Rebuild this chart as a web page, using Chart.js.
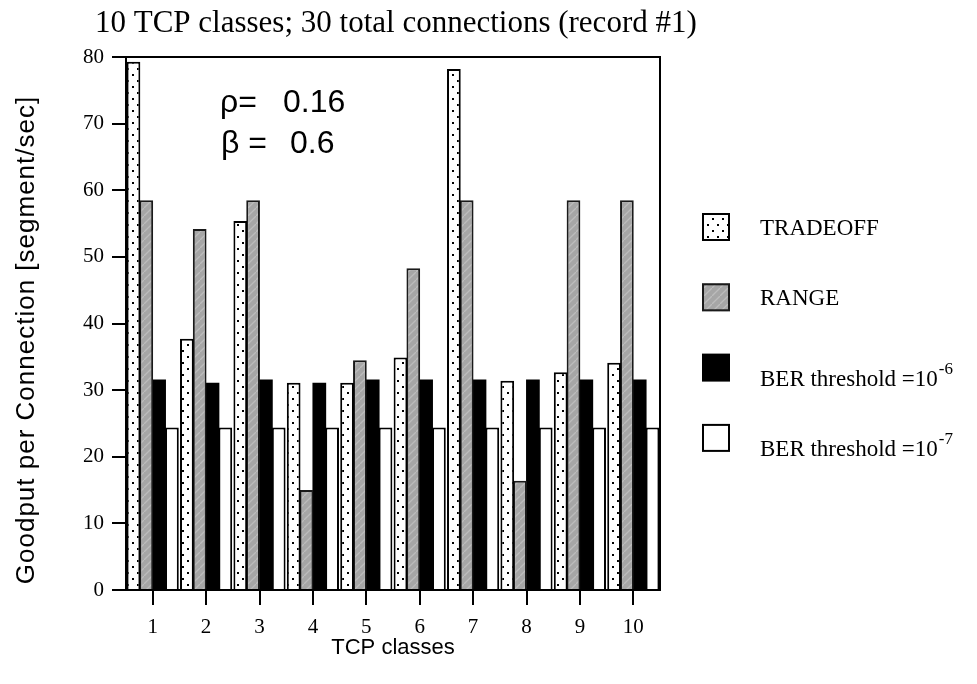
<!DOCTYPE html>
<html>
<head>
<meta charset="utf-8">
<title>Goodput per TCP class</title>
<script src="https://cdn.jsdelivr.net/npm/chart.js@4/dist/chart.umd.min.js"></script>
<style>
  html, body { margin: 0; padding: 0; background: #fff; }
  canvas { display: block; }
</style>
</head>
<body>
<canvas id="chart" width="977" height="684"></canvas>
<script>
// ---- data ----
const classes = ['1', '2', '3', '4', '5', '6', '7', '8', '9', '10'];
const seriesNames = ['TRADEOFF', 'RANGE', 'BER threshold =10^-6', 'BER threshold =10^-7'];
const tradeoff = [79.3, 37.7, 55.4, 31.1, 31.1, 34.9, 78.2, 31.4, 32.7, 34.1];
const range    = [58.5, 54.2, 58.5, 15.0, 34.5, 48.3, 58.5, 16.4, 58.5, 58.5];
const ber6     = [31.6, 31.1, 31.6, 31.1, 31.6, 31.6, 31.6, 31.6, 31.6, 31.6];
const ber7     = [24.4, 24.4, 24.4, 24.4, 24.4, 24.4, 24.4, 24.4, 24.4, 24.4];
const yMin = 0, yMax = 80, yStep = 10;
const chartTitle = '10 TCP classes; 30 total connections (record #1)';
const xTitle = 'TCP classes';
const yTitle = 'Goodput per Connection [segment/sec]';
const paramLines = [['\u03C1=', '0.16'], ['\u03B2 =', '0.6']];

// ---- fills ----
function dotPattern() {
  const c = document.createElement('canvas');
  c.width = 10; c.height = 12;
  const g = c.getContext('2d');
  g.fillStyle = '#fff'; g.fillRect(0, 0, 10, 12);
  g.fillStyle = '#000';
  g.fillRect(2, 2, 2, 2);
  g.fillRect(7, 8, 2, 2);
  return g.createPattern(c, 'repeat');
}
function hatchPattern() {
  const c = document.createElement('canvas');
  c.width = 8; c.height = 8;
  const g = c.getContext('2d');
  g.fillStyle = '#a6a6a6'; g.fillRect(0, 0, 8, 8);
  g.strokeStyle = '#bcbcbc'; g.lineWidth = 1.3;
  g.beginPath(); g.moveTo(0, 8); g.lineTo(8, 0); g.stroke();
  return g.createPattern(c, 'repeat');
}
const dots = dotPattern();
const hatch = hatchPattern();

const SERIF = '"Liberation Serif", "Times New Roman", serif';
const SANS = '"Liberation Sans", Arial, sans-serif';

// ---- frame, titles, parameters and legend ----
const notes = {
  id: 'notes',
  afterDraw(chart) {
    const ctx = chart.ctx;
    const a = chart.chartArea;
    ctx.save();

    // closing top / right frame of the plot box
    ctx.strokeStyle = '#000';
    ctx.lineWidth = 2;
    ctx.beginPath();
    ctx.moveTo(a.left - 1, Math.round(a.top));
    ctx.lineTo(Math.round(a.right), Math.round(a.top));
    ctx.lineTo(Math.round(a.right), a.bottom + 1);
    ctx.stroke();

    ctx.fillStyle = '#000';
    ctx.textBaseline = 'alphabetic';

    // chart title
    ctx.font = '31px ' + SERIF;
    ctx.textAlign = 'left';
    ctx.fillText(chartTitle, 95, 32);

    // y axis title
    ctx.save();
    ctx.translate(34, 340);
    ctx.rotate(-Math.PI / 2);
    ctx.font = '26px ' + SANS;
    ctx.letterSpacing = '1px';
    ctx.textAlign = 'center';
    ctx.fillText(yTitle, 0, 0);
    ctx.restore();

    // parameter annotations
    ctx.font = '32px ' + SANS;
    ctx.textAlign = 'left';
    ctx.fillText(paramLines[0][0], 220, 112);
    ctx.fillText(paramLines[0][1], 283, 112);
    ctx.fillText(paramLines[1][0], 221, 153);
    ctx.fillText(paramLines[1][1], 290, 153);

    // legend
    const lx = 702, ly = 213, step = 70.3, box = 28;
    chart.data.datasets.forEach((ds, i) => {
      const top = ly + step * i;
      ctx.fillStyle = ds.backgroundColor;
      ctx.fillRect(lx, top, box, box);
      if (ds.borderWidth > 0) {
        ctx.strokeStyle = ds.borderColor;
        ctx.lineWidth = 2;
        ctx.strokeRect(lx + 1, top + 1, box - 2, box - 2);
      }
      const parts = ds.label.split('^');
      const base = top + (parts.length > 1 ? 32 : 22);
      ctx.fillStyle = '#000';
      ctx.font = '23px ' + SERIF;
      ctx.fillText(parts[0], 760, base);
      if (parts.length > 1) {
        const w = ctx.measureText(parts[0]).width;
        ctx.font = '17px ' + SERIF;
        ctx.fillText(parts[1], 760 + w + 1, base - 12);
      }
    });

    ctx.restore();
  }
};

new Chart(document.getElementById('chart'), {
  type: 'bar',
  data: {
    labels: classes,
    datasets: [
      { label: seriesNames[0], data: tradeoff, backgroundColor: dots,   borderColor: '#000',    borderWidth: 2 },
      { label: seriesNames[1], data: range,    backgroundColor: hatch,  borderColor: '#1a1a1a', borderWidth: 2 },
      { label: seriesNames[2], data: ber6,     backgroundColor: '#000', borderColor: '#000',    borderWidth: 0 },
      { label: seriesNames[3], data: ber7,     backgroundColor: '#fff', borderColor: '#000',    borderWidth: 2 }
    ]
  },
  options: {
    responsive: false,
    animation: false,
    devicePixelRatio: 1,
    layout: { padding: { top: 57, right: 317, left: 0, bottom: 0 } },
    datasets: { bar: { categoryPercentage: 0.96, barPercentage: 1.07 } },
    plugins: {
      legend: { display: false },
      title: { display: false },
      tooltip: { enabled: false }
    },
    scales: {
      x: {
        grid: { display: true, drawOnChartArea: false, drawTicks: true, tickLength: 15, color: '#000', lineWidth: 2, offset: false },
        border: { display: true, color: '#000', width: 2 },
        ticks: { color: '#000', font: { family: SERIF, size: 21 }, padding: 10, maxRotation: 0 },
        title: { display: true, text: xTitle, color: '#000', font: { family: SANS, size: 22 }, padding: { top: 0, bottom: 23 } },
        afterFit(scale) { scale.height = 94; }
      },
      y: {
        min: yMin,
        max: yMax,
        ticks: { stepSize: yStep, color: '#000', font: { family: SERIF, size: 21 }, padding: 8 },
        grid: { display: true, drawOnChartArea: false, drawTicks: true, tickLength: 14, color: '#000', lineWidth: 2 },
        border: { display: true, color: '#000', width: 2 },
        afterFit(scale) { scale.width = 126; }
      }
    }
  },
  plugins: [notes]
});
</script>
</body>
</html>
